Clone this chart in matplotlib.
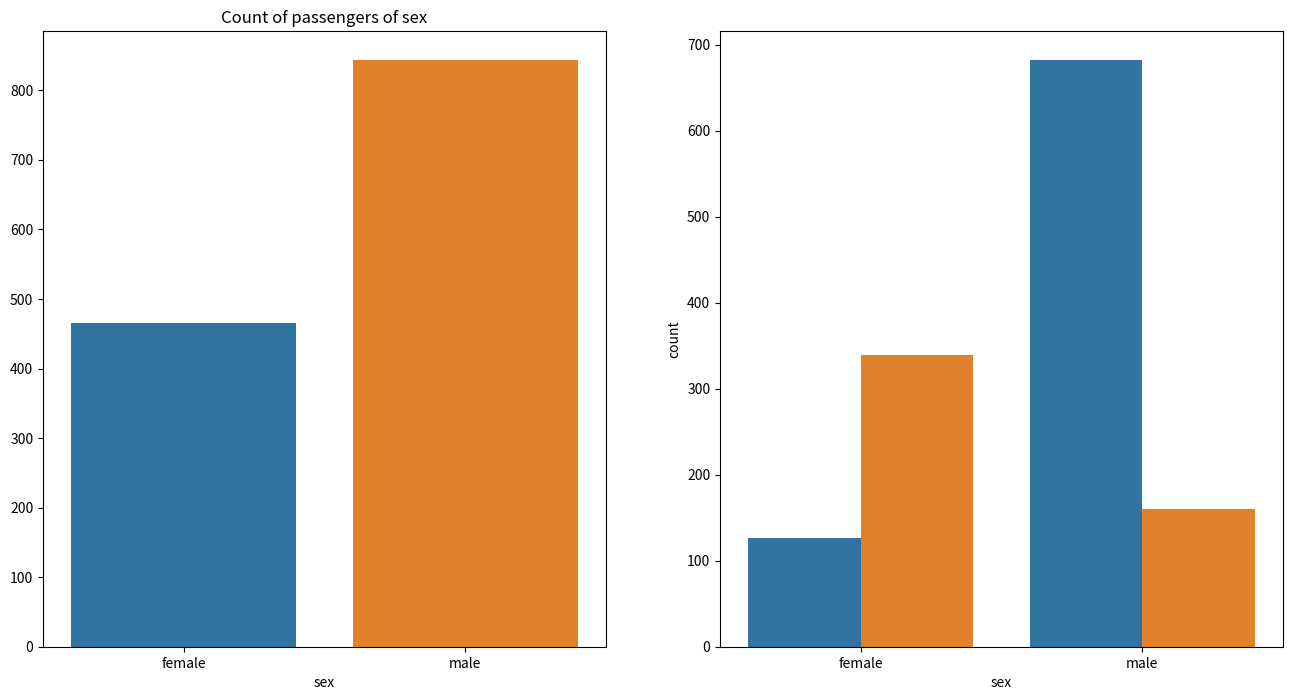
import numpy as np
import matplotlib
matplotlib.use("Agg")
import matplotlib.pyplot as plt

plt.rcParams['font.family'] = ['Noto Sans CJK KR', 'DejaVu Sans']

sex = ['female', 'male']
sex_count = [466, 843]
# survived hue: 0 = died, 1 = survived
died = [127, 682]
survived = [339, 161]

blue = '#3274a1'
orange = '#e1812c'

fig = plt.figure(figsize=(12.92, 6.98), dpi=100)
ax1 = fig.add_axes([43 / 1292, 51 / 698, 563 / 1292, 616 / 698])
ax2 = fig.add_axes([720 / 1292, 51 / 698, 563 / 1292, 616 / 698])

x = np.arange(len(sex))

# left: count of passengers by sex
ax1.bar(x, sex_count, width=0.8, color=[blue, orange])
ax1.set_xticks(x)
ax1.set_xticklabels(sex)
ax1.set_xlim(-0.5, 1.5)
ax1.set_xlabel('sex', fontsize=10)
ax1.set_title('Count of passengers of sex', fontsize=12)

# right: split by survived
ax2.bar(x - 0.2, died, width=0.4, color=blue)
ax2.bar(x + 0.2, survived, width=0.4, color=orange)
ax2.set_xticks(x)
ax2.set_xticklabels(sex)
ax2.set_xlim(-0.5, 1.5)
ax2.set_xlabel('sex', fontsize=10)
ax2.set_ylabel('count', fontsize=10)

for ax in (ax1, ax2):
    ax.tick_params(labelsize=10)

plt.savefig('out.png', dpi=100)
